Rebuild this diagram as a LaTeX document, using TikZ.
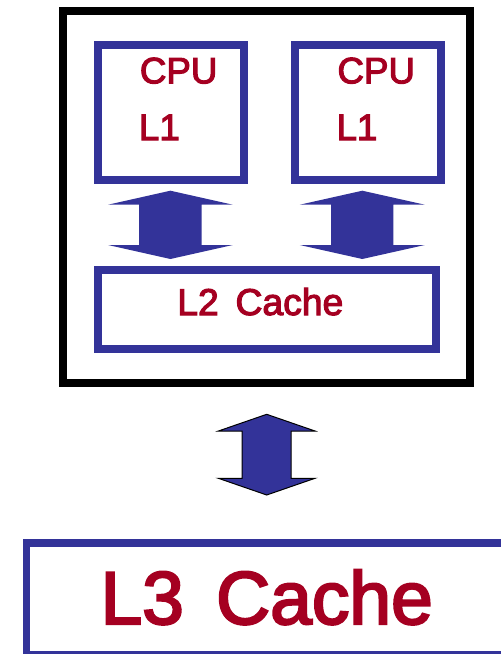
\documentclass[tikz,border=0pt]{standalone}
\usepackage{fontspec}
\setmainfont{Liberation Sans}
\newfontfamily\labelfont[FakeBold=3]{Liberation Sans}
\definecolor{boxblue}{HTML}{333399}
\definecolor{labelred}{HTML}{A50021}

% block double arrow: style, centre x, top y, bottom y, head half width, shaft half width, head length
\newcommand\blockarrow[7]{%
  \path[#1] (#2,#3)
    -- ({#2+#5},{#3+#7}) -- ({#2+#6},{#3+#7})
    -- ({#2+#6},{#4-#7}) -- ({#2+#5},{#4-#7})
    -- (#2,#4)
    -- ({#2-#5},{#4-#7}) -- ({#2-#6},{#4-#7})
    -- ({#2-#6},{#3+#7}) -- ({#2-#5},{#3+#7}) -- cycle;}

\begin{document}
\begin{tikzpicture}[x=1pt,y=-1pt,
  chip/.style={draw=black,line width=8pt,inner sep=0pt,outer sep=0pt},
  cachebox/.style={draw=boxblue,line width=8pt,fill=white,inner sep=0pt,outer sep=0pt},
  lbl/.style={text=labelred,inner sep=0pt,outer sep=0pt,anchor=base west},
  small/.style={lbl,font=\labelfont\fontsize{36.7}{40}\selectfont},
  big/.style={lbl,font=\labelfont\fontsize{75}{80}\selectfont},
  innerarrow/.style={fill=boxblue},
  outerarrow/.style={fill=boxblue,draw=black,line width=1pt,line join=miter}]
\clip (0,0) rectangle (501,654);
\fill[white] (0,0) rectangle (501,654);

% processor package
\node[chip,minimum width=407pt,minimum height=372.5pt] (pkg) at (266.5,196.75) {};

% two cores with their L1
\node[cachebox,minimum width=146.5pt,minimum height=134.7pt] (cpuA) at (170.75,112.35) {};
\node[cachebox,minimum width=146.3pt,minimum height=134.7pt] (cpuB) at (368.15,112.35) {};
\node[small] (cpuAname) at (139.9,83.3) {CPU};
\node[small] (cpuAl1) at (139,140) {L1};
\node[small] (cpuBname) at (337.5,83.3) {CPU};
\node[small] (cpuBl1) at (336.6,140) {L1};

% shared L2
\node[cachebox,minimum width=338.5pt,minimum height=79pt] (ltwo) at (266.75,309.5) {};
\node[lbl,font=\labelfont\fontsize{37.3}{40}\selectfont] (ltwotext) at (177.3,315) {L2\hspace{0.45em}Cache};

% core <-> L2 arrows
\blockarrow{innerarrow}{170.4}{190.7}{259}{62.35}{31.2}{14}
\blockarrow{innerarrow}{362.3}{190.7}{259}{62.5}{31.15}{14}

% package <-> L3 arrow
\blockarrow{outerarrow}{266.7}{414.3}{495}{48.3}{24.5}{16.7}

% L3 cache
\node[cachebox,line width=7.4pt,minimum width=500pt,minimum height=111.3pt] (lthree) at (276.3,598.65) {};
\node[big] (lthreetext) at (100.5,624) {L3\hspace{0.43em}Cache};
\end{tikzpicture}
\end{document}
